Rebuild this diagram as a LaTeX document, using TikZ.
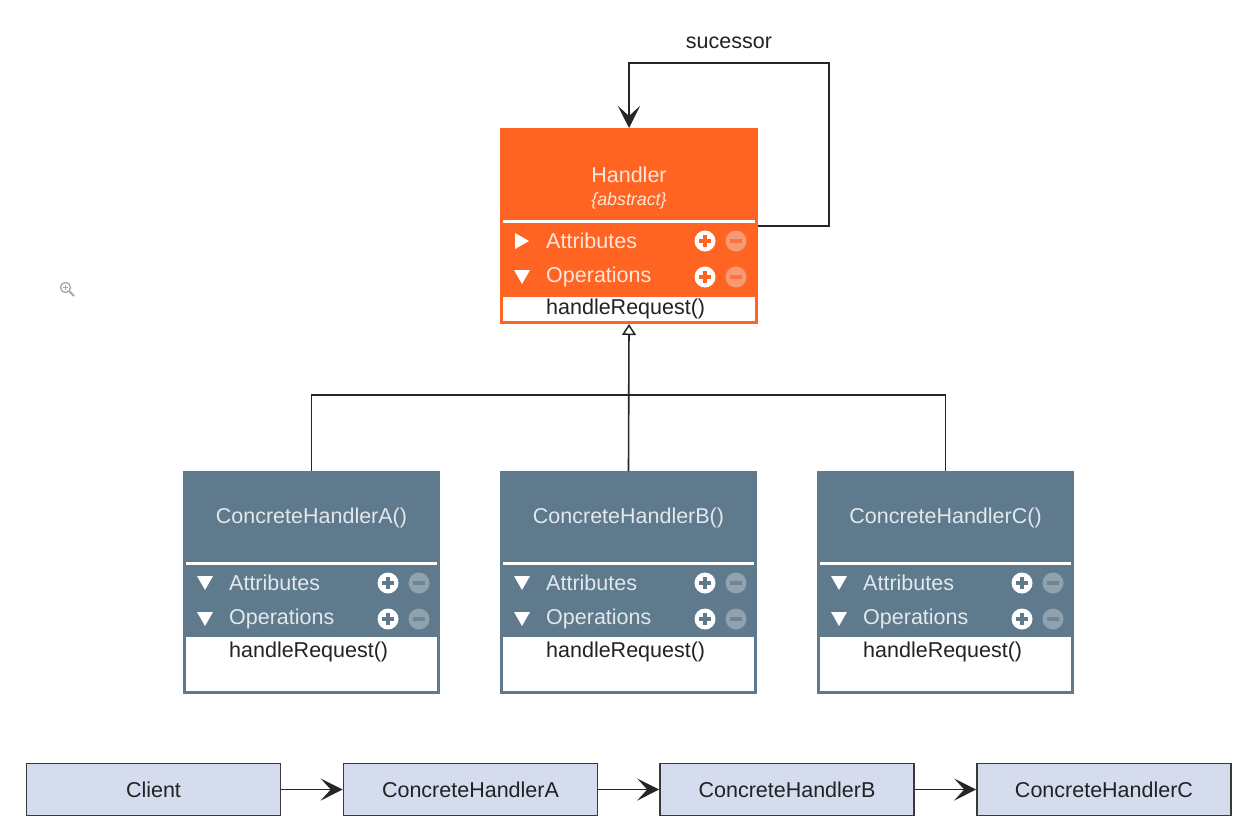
\documentclass[tikz,border=0pt]{standalone}
\usepackage{fontspec}
\setmainfont{Liberation Sans}
\usetikzlibrary{arrows.meta,calc}
\definecolor{horange}{HTML}{FF6422}
\definecolor{hminus}{HTML}{F59A74}
\definecolor{slate}{HTML}{5E7A8C}
\definecolor{sminus}{HTML}{8FA2AE}
\definecolor{htext}{HTML}{FFE6DA}
\definecolor{stext}{HTML}{E2E8EC}
\definecolor{dtext}{HTML}{222222}
\definecolor{cfill}{HTML}{D4DCEE}
\definecolor{cline}{HTML}{3A3A3A}
\tikzset{
  big/.style={font=\fontsize{21.5}{24}\selectfont},
  small/.style={font=\fontsize{17.8}{20}\itshape\selectfont},
  classbox/.style={anchor=north west, draw=#1, fill=#1, line width=3, minimum width=254, minimum height=220, inner sep=0},
  chainbox/.style={draw=cline, fill=cfill, line width=1.6, minimum width=254, minimum height=52, inner sep=0, big, text=dtext},
  conn/.style={draw=black!85, line width=1.6},
  chev/.style={-{Stealth[length=22,width=22,inset=10]}},
  lbl/.style={big, anchor=west, inner sep=0}
}
\newcommand{\plusminus}[4]{% x y bg minuscolor
  \fill[white] (#1,#2) circle (10.5);
  \draw[#3, line width=3.2] (#1-6,#2) -- (#1+6,#2) (#1,#2-6) -- (#1,#2+6);
  \fill[#4] (#1+31,#2) circle (10.5);
  \draw[#3!70!#4, line width=3.2] (#1+25,#2) -- (#1+37,#2);
}
\newcommand{\downtri}[3]{\fill[#3] (#1-8,#2-7) -- (#1+8,#2-7) -- (#1,#2+7) -- cycle;}
\newcommand{\righttri}[3]{\fill[#3] (#1-7,#2-8) -- (#1-7,#2+8) -- (#1+7,#2) -- cycle;}
\newcommand{\concrete}[3]{% name, left x, title
  \node[classbox=slate] (#1) at (#2,471) {};
  \begin{scope}[shift={(#2,471)}]
    \node[big, text=stext] (#1t) at (128.5,47) {#3};
    \draw[white, line width=3] (3,92) -- (254,92);
    \downtri{22}{112}{white}
    \node[lbl, text=stext] (#1a) at (46,112) {Attributes};
    \plusminus{205}{112}{slate}{sminus}
    \downtri{22}{148}{white}
    \node[lbl, text=stext] (#1o) at (46,148) {Operations};
    \plusminus{205}{148}{slate}{sminus}
    \fill[white] (3,166) rectangle (254,220);
    \node[lbl, text=dtext] (#1m) at (46,181) {handleRequest()};
  \end{scope}
}
\begin{document}
\begin{tikzpicture}[x=1pt,y=-1pt]
\useasboundingbox (0,0) rectangle (1256,836);
\fill[white] (0,0) rectangle (1256,836);

% zoom icon
\draw[gray!70, line width=1.3] (65.5,287.5) circle (5);
\draw[gray!70, line width=1.1] (63,287.5) -- (68,287.5) (65.5,285) -- (65.5,290);
\draw[gray!70, line width=2] (69.5,291.5) -- (74,296);

% Handler
\node[classbox=horange, minimum width=255, minimum height=193] (H) at (500,128) {};
\begin{scope}[shift={(500,128)}]
  \node[big, text=htext] (Ht) at (129,47) {Handler};
  \node[small, text=htext] (Hs) at (129,73) {\{abstract\}};
  \draw[white, line width=3] (3,93) -- (255,93);
  \righttri{22}{113}{white}
  \node[lbl, text=htext] (Ha) at (46,113) {Attributes};
  \plusminus{205}{113}{horange}{hminus}
  \downtri{22}{149}{white}
  \node[lbl, text=htext] (Ho) at (46,149) {Operations};
  \plusminus{205}{149}{horange}{hminus}
  \fill[white] (3,169) rectangle (255,193);
  \node[lbl, text=dtext] (Hm) at (46,181) {handleRequest()};
\end{scope}

\concrete{A}{183}{ConcreteHandlerA()}
\concrete{B}{500}{ConcreteHandlerB()}
\concrete{C}{817}{ConcreteHandlerC()}

% generalization
\draw[conn, -{Triangle[open,length=11,width=14,line width=1.5]}] (B.north) -- (H.south);
\draw[conn] (A.north) |- ($(C.north)+(0,-76)$) -- (C.north);

% successor self loop
\draw[conn, chev] ($(H.north east)+(0,98)$) -| (829,63) -| (H.north);
\node[big, text=dtext] (succ) at (729,43) {sucessor};

% chain
\node[chainbox] (cl) at (153.5,789.5) {Client};
\node[chainbox] (ca) at (470.5,789.5) {ConcreteHandlerA};
\node[chainbox] (cb) at (787,789.5) {ConcreteHandlerB};
\node[chainbox] (cc) at (1104,789.5) {ConcreteHandlerC};
\draw[conn, chev] (cl) -- (ca);
\draw[conn, chev] (ca) -- (cb);
\draw[conn, chev] (cb) -- (cc);
\end{tikzpicture}
\end{document}
